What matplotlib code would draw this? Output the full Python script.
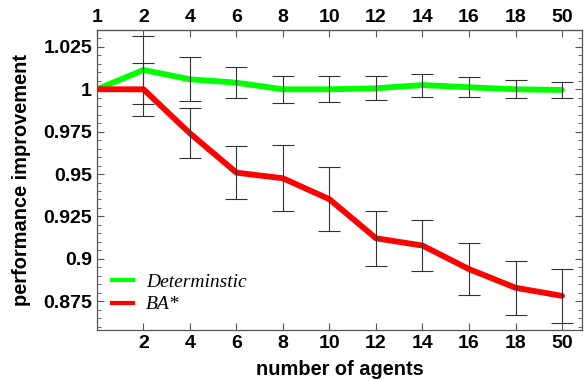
import numpy as np
import matplotlib
matplotlib.use("Agg")
import matplotlib.pyplot as plt
from matplotlib.ticker import MultipleLocator
from matplotlib.lines import Line2D

# antal agenter (etiketter) och mätvärden
agenter = ["1", "2", "4", "6", "8", "10", "12", "14", "16", "18", "50"]
det_medel = [1.0, 1.0114, 1.0059, 1.0039, 1.0, 1.0, 1.0006, 1.0025, 1.0012, 1.0, 0.9996]
det_fel = [0.0, 0.0198, 0.013, 0.0093, 0.008, 0.0076, 0.0072, 0.0068, 0.006, 0.0052, 0.005]
ba_medel = [1.0, 1.0, 0.974, 0.9508, 0.9475, 0.9351, 0.9121, 0.9078, 0.8939, 0.8829, 0.8781]
ba_fel = [0.0, 0.0155, 0.0147, 0.0156, 0.0196, 0.019, 0.0163, 0.0153, 0.0155, 0.0159, 0.0159]

plt.rcParams["font.family"] = ["Liberation Sans", "DejaVu Sans"]
plt.rcParams["font.weight"] = "bold"

fig = plt.figure(figsize=(5.84, 3.81), dpi=100)
ax = fig.add_axes([0.166, 0.134, 0.8306, 0.7873])

x = np.arange(len(agenter))

ax.errorbar(x[1:], det_medel[1:], yerr=det_fel[1:], fmt="none", ecolor="#333333",
            elinewidth=0.8, capsize=8, capthick=0.8, zorder=3)
ax.errorbar(x[1:], ba_medel[1:], yerr=ba_fel[1:], fmt="none", ecolor="#333333",
            elinewidth=0.8, capsize=8, capthick=0.8, zorder=3)
ax.plot(x, det_medel, color="#00ff00", lw=4.2, solid_capstyle="round", zorder=2)
ax.plot(x, ba_medel, color="#ff0000", lw=4.2, solid_capstyle="round", zorder=2)

ax.set_xlim(0, 10.43)
ax.set_ylim(0.858, 1.035)

ax.set_xticks(x[1:])
ax.set_xticklabels(agenter[1:])
ax.yaxis.set_minor_locator(MultipleLocator(0.005))
ax.set_yticks([0.875, 0.9, 0.925, 0.95, 0.975, 1.0, 1.025])
ax.set_yticklabels(["0.875", "0.9", "0.925", "0.95", "0.975", "1", "1.025"])

ax.tick_params(axis="both", which="both", direction="in", labelsize=14, colors="#555555",
               labelcolor="black", right=True)
ax.tick_params(axis="y", which="major", length=5, width=0.8)
ax.tick_params(axis="y", which="minor", length=3, width=0.6)
ax.tick_params(axis="x", length=5, width=0.8)

topp = ax.secondary_xaxis("top")
topp.set_xticks(x)
topp.set_xticklabels(agenter)
topp.tick_params(direction="in", labelsize=14, colors="#555555", labelcolor="black",
                 length=5, width=0.8, pad=3)

for s in ax.spines.values():
    s.set_color("#555555")
    s.set_linewidth(0.9)
topp.spines["top"].set_color("#555555")

ax.set_xlabel("number of agents", fontsize=14.4, fontweight="bold", labelpad=6)
ax.set_ylabel("performance improvement", fontsize=14.4, fontweight="bold", labelpad=9)

h = [Line2D([], [], color="#00ff00", lw=3), Line2D([], [], color="#ff0000", lw=3)]
leg = ax.legend(h, ["Determinstic", "BA*"], loc="lower left", bbox_to_anchor=(-0.005, -0.003),
                frameon=False, handlelength=1.1, handletextpad=0.65, labelspacing=0.25,
                prop={"family": "Liberation Serif", "style": "italic", "size": 14, "weight": "normal"})

plt.savefig("out.png", dpi=100)
